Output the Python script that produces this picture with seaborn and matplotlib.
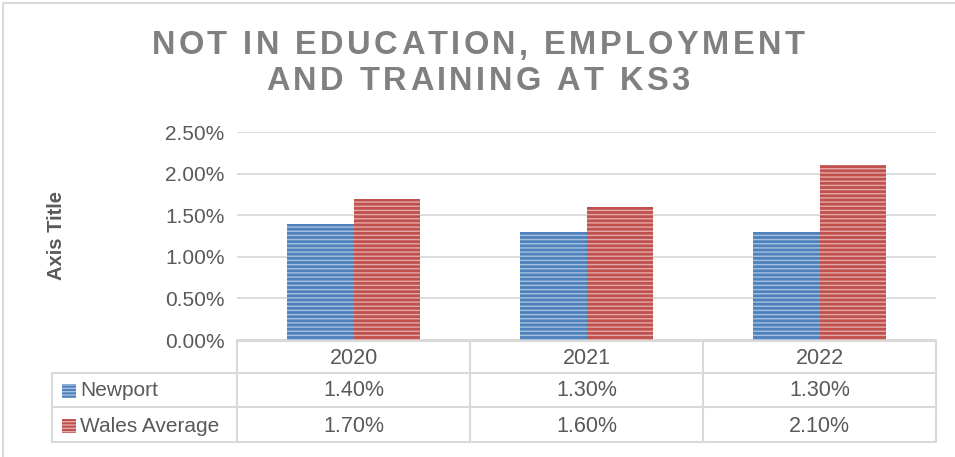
import matplotlib
matplotlib.use('Agg')
import matplotlib.pyplot as plt
import seaborn as sns
import pandas as pd
from matplotlib.patches import Rectangle
from matplotlib.ticker import FuncFormatter

years = ['2020', '2021', '2022']
series = ['Newport', 'Wales Average']
newport = [1.40, 1.30, 1.30]
wales = [1.70, 1.60, 2.10]
yticks = [0.0, 0.5, 1.0, 1.5, 2.0, 2.5]
title_lines = ['NOT IN EDUCATION, EMPLOYMENT', 'AND TRAINING AT KS3']

colors = {'Newport': '#4F81BD', 'Wales Average': '#C0504D'}
stripe = {'Newport': '#A7C0DE', 'Wales Average': '#E3A9A7'}
txt_col = '#595959'
grid_col = '#D9D9D9'

df = pd.DataFrame({'year': years * 2,
                   'series': ['Newport'] * 3 + ['Wales Average'] * 3,
                   'value': newport + wales})

sns.set_style('white')
plt.rcParams['font.family'] = ['Liberation Sans', 'DejaVu Sans']
plt.rcParams['hatch.linewidth'] = 1.0

W, H = 955, 457
fig = plt.figure(figsize=(W / 100, H / 100), dpi=100)

# main plot area (pixel layout)
ax = fig.add_axes([237 / W, (H - 340) / H, 699 / W, 208 / H])
sns.barplot(data=df, x='year', y='value', hue='series', palette=colors,
            saturation=1, width=0.575, gap=0, legend=False, ax=ax, zorder=3)
for p in ax.patches:
    name = 'Newport' if p.get_facecolor()[2] > 0.5 else 'Wales Average'
    p.set_hatch('----')
    p.set_edgecolor(stripe[name])
    p.set_linewidth(0)
ax.set_ylim(0, 2.5)
ax.set_xlim(-0.5, 2.5)
ax.set_yticks(yticks)
ax.yaxis.set_major_formatter(FuncFormatter(lambda v, _: '%.2f%%' % v))
ax.tick_params(axis='y', labelsize=15, labelcolor=txt_col, length=0, pad=9)
ax.set_xticks([])
ax.set_xlabel('')
ax.set_ylabel('')
ax.yaxis.grid(True, color=grid_col, lw=1.3, zorder=0)
for s in ['top', 'right', 'left']:
    ax.spines[s].set_visible(False)
ax.spines['bottom'].set_color(grid_col)
ax.spines['bottom'].set_linewidth(1.3)

fig.text(57 / W, 1 - 235 / H, 'Axis Title', rotation=90, ha='center', va='center',
         fontsize=14.5, fontweight='bold', color=txt_col)

# overlay for title, table and border (pixel coordinates)
ov = fig.add_axes([0, 0, 1, 1], zorder=-1)
ov.set_xlim(0, W)
ov.set_ylim(H, 0)
ov.axis('off')
ov.plot([3, 3, W], [H, 3, 3], color='#D9D9D9', lw=1.5)

fig.canvas.draw()
renderer = fig.canvas.get_renderer()


def spaced(text, yc, size, spacing):
    items = []
    total = 0
    for ch in text:
        t = ov.text(0, yc, ch, fontsize=size, fontweight='bold', color='#808080',
                    ha='left', va='center')
        w = t.get_window_extent(renderer).width
        items.append((t, w))
        total += w + spacing
    total -= spacing
    x = 478 - total / 2
    for t, w in items:
        t.set_x(x)
        x += w + spacing


spaced(title_lines[0], 46, 23.5, 3.4)
spaced(title_lines[1], 81, 23.5, 3.4)

# data table
tab_kw = dict(color=grid_col, lw=1.5)
col_x = [237, 470, 703, 936]
row_y = [341, 373, 407, 442]
ov.plot([237, 936], [row_y[0]] * 2, **tab_kw)
for y in row_y[1:]:
    ov.plot([52, 936], [y, y], **tab_kw)
ov.plot([52, 52], [373, 442], **tab_kw)
for x in col_x:
    ov.plot([x, x], [341, 442], **tab_kw)

fs = 15.5
for i, yr in enumerate(years):
    xc = (col_x[i] + col_x[i + 1]) / 2
    ov.text(xc, 358, yr, ha='center', va='center', fontsize=fs, color=txt_col)
    ov.text(xc, 391, '%.2f%%' % newport[i], ha='center', va='center', fontsize=fs, color=txt_col)
    ov.text(xc, 426, '%.2f%%' % wales[i], ha='center', va='center', fontsize=fs, color=txt_col)

for name, yc in zip(series, [391, 426]):
    ov.add_patch(Rectangle((62, yc - 7), 14, 14, facecolor=colors[name],
                           edgecolor=stripe[name], lw=0, hatch='-----'))
    ov.text(80, yc, name, ha='left', va='center', fontsize=15, color=txt_col)

fig.savefig('out.png', dpi=100)
